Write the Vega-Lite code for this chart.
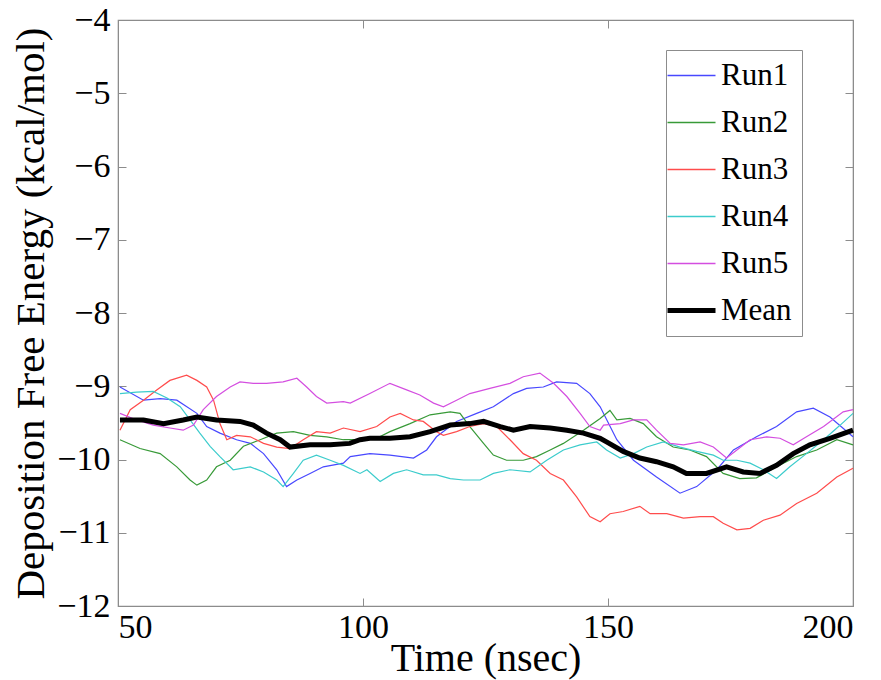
{
  "$schema": "https://vega.github.io/schema/vega-lite/v6.json",
  "width": 735,
  "height": 586,
  "autosize": "none",
  "padding": {"left": 118, "top": 20, "right": 28, "bottom": 74},
  "background": "white",
  "config": {
    "view": {"stroke": "#8c8c8c", "strokeWidth": 1.2},
    "axis": {"domainColor": "#8c8c8c", "tickColor": "#8c8c8c", "grid": false, "labelColor": "black", "titleColor": "black"}
  },
  "data": {"values": [
    {"s":"Run1","t":50.4,"v":-9.01},{"s":"Run1","t":55.2,"v":-9.19},{"s":"Run1","t":58.6,"v":-9.17},{"s":"Run1","t":62,"v":-9.19},{"s":"Run1","t":66.1,"v":-9.37},{"s":"Run1","t":68.1,"v":-9.55},{"s":"Run1","t":70.8,"v":-9.64},{"s":"Run1","t":74.2,"v":-9.73},{"s":"Run1","t":77,"v":-9.78},{"s":"Run1","t":79.7,"v":-9.92},{"s":"Run1","t":82.4,"v":-10.14},{"s":"Run1","t":84.4,"v":-10.37},{"s":"Run1","t":86.5,"v":-10.28},{"s":"Run1","t":89.2,"v":-10.19},{"s":"Run1","t":91.9,"v":-10.1},{"s":"Run1","t":96,"v":-10.05},{"s":"Run1","t":97.4,"v":-9.96},{"s":"Run1","t":101.4,"v":-9.92},{"s":"Run1","t":105.5,"v":-9.94},{"s":"Run1","t":110.3,"v":-9.98},{"s":"Run1","t":113,"v":-9.87},{"s":"Run1","t":115,"v":-9.69},{"s":"Run1","t":119.1,"v":-9.48},{"s":"Run1","t":123.2,"v":-9.37},{"s":"Run1","t":126.6,"v":-9.28},{"s":"Run1","t":130.7,"v":-9.1},{"s":"Run1","t":133.4,"v":-9.03},{"s":"Run1","t":136.8,"v":-9.01},{"s":"Run1","t":139.5,"v":-8.94},{"s":"Run1","t":143.6,"v":-8.96},{"s":"Run1","t":146.3,"v":-9.1},{"s":"Run1","t":148.4,"v":-9.28},{"s":"Run1","t":151.8,"v":-9.73},{"s":"Run1","t":155.2,"v":-10.01},{"s":"Run1","t":159.9,"v":-10.24},{"s":"Run1","t":164.7,"v":-10.46},{"s":"Run1","t":168.1,"v":-10.37},{"s":"Run1","t":172.2,"v":-10.14},{"s":"Run1","t":175.6,"v":-9.87},{"s":"Run1","t":180.3,"v":-9.69},{"s":"Run1","t":184.4,"v":-9.55},{"s":"Run1","t":188.5,"v":-9.35},{"s":"Run1","t":191.9,"v":-9.3},{"s":"Run1","t":195.3,"v":-9.42},{"s":"Run1","t":200,"v":-9.69},
    {"s":"Run2","t":50.4,"v":-9.73},{"s":"Run2","t":54.5,"v":-9.85},{"s":"Run2","t":58.6,"v":-9.92},{"s":"Run2","t":62,"v":-10.1},{"s":"Run2","t":64.7,"v":-10.28},{"s":"Run2","t":66.1,"v":-10.35},{"s":"Run2","t":68.1,"v":-10.28},{"s":"Run2","t":70.1,"v":-10.1},{"s":"Run2","t":72.9,"v":-10.01},{"s":"Run2","t":75.6,"v":-9.82},{"s":"Run2","t":79,"v":-9.73},{"s":"Run2","t":82.4,"v":-9.64},{"s":"Run2","t":85.8,"v":-9.62},{"s":"Run2","t":89.2,"v":-9.67},{"s":"Run2","t":92.6,"v":-9.69},{"s":"Run2","t":96,"v":-9.73},{"s":"Run2","t":99.4,"v":-9.73},{"s":"Run2","t":102.8,"v":-9.71},{"s":"Run2","t":105.5,"v":-9.62},{"s":"Run2","t":109.6,"v":-9.51},{"s":"Run2","t":113.7,"v":-9.39},{"s":"Run2","t":117.8,"v":-9.35},{"s":"Run2","t":119.8,"v":-9.37},{"s":"Run2","t":121.8,"v":-9.55},{"s":"Run2","t":124.6,"v":-9.78},{"s":"Run2","t":126.6,"v":-9.94},{"s":"Run2","t":129.3,"v":-10.01},{"s":"Run2","t":132.7,"v":-10.01},{"s":"Run2","t":135.4,"v":-9.96},{"s":"Run2","t":138.2,"v":-9.87},{"s":"Run2","t":140.9,"v":-9.78},{"s":"Run2","t":145,"v":-9.6},{"s":"Run2","t":148.4,"v":-9.44},{"s":"Run2","t":150.4,"v":-9.33},{"s":"Run2","t":151.8,"v":-9.46},{"s":"Run2","t":154.5,"v":-9.44},{"s":"Run2","t":157.2,"v":-9.51},{"s":"Run2","t":159.9,"v":-9.69},{"s":"Run2","t":163.3,"v":-9.83},{"s":"Run2","t":166.7,"v":-9.87},{"s":"Run2","t":170.1,"v":-9.96},{"s":"Run2","t":173.5,"v":-10.19},{"s":"Run2","t":176.9,"v":-10.26},{"s":"Run2","t":180.3,"v":-10.25},{"s":"Run2","t":184.4,"v":-10.1},{"s":"Run2","t":188.5,"v":-9.96},{"s":"Run2","t":192.6,"v":-9.87},{"s":"Run2","t":196.7,"v":-9.73},{"s":"Run2","t":200,"v":-9.8},
    {"s":"Run3","t":50.4,"v":-9.6},{"s":"Run3","t":52.5,"v":-9.32},{"s":"Run3","t":55.2,"v":-9.19},{"s":"Run3","t":57.9,"v":-9.05},{"s":"Run3","t":60.6,"v":-8.92},{"s":"Run3","t":64,"v":-8.85},{"s":"Run3","t":66.1,"v":-8.92},{"s":"Run3","t":68.1,"v":-9.01},{"s":"Run3","t":69.5,"v":-9.19},{"s":"Run3","t":70.8,"v":-9.51},{"s":"Run3","t":72.2,"v":-9.73},{"s":"Run3","t":74.2,"v":-9.67},{"s":"Run3","t":77,"v":-9.69},{"s":"Run3","t":79.7,"v":-9.78},{"s":"Run3","t":82.4,"v":-9.83},{"s":"Run3","t":85.1,"v":-9.85},{"s":"Run3","t":87.8,"v":-9.73},{"s":"Run3","t":90.5,"v":-9.62},{"s":"Run3","t":93.3,"v":-9.64},{"s":"Run3","t":96,"v":-9.57},{"s":"Run3","t":99.4,"v":-9.62},{"s":"Run3","t":102.8,"v":-9.55},{"s":"Run3","t":105.5,"v":-9.42},{"s":"Run3","t":107.6,"v":-9.37},{"s":"Run3","t":110.3,"v":-9.46},{"s":"Run3","t":112.3,"v":-9.48},{"s":"Run3","t":115,"v":-9.62},{"s":"Run3","t":116.4,"v":-9.67},{"s":"Run3","t":119.1,"v":-9.62},{"s":"Run3","t":121.8,"v":-9.55},{"s":"Run3","t":124.6,"v":-9.51},{"s":"Run3","t":127.3,"v":-9.55},{"s":"Run3","t":130,"v":-9.73},{"s":"Run3","t":132.7,"v":-9.92},{"s":"Run3","t":135.4,"v":-10.01},{"s":"Run3","t":138.2,"v":-10.19},{"s":"Run3","t":140.9,"v":-10.28},{"s":"Run3","t":143.6,"v":-10.51},{"s":"Run3","t":146.3,"v":-10.78},{"s":"Run3","t":148.4,"v":-10.85},{"s":"Run3","t":150.4,"v":-10.74},{"s":"Run3","t":153.1,"v":-10.71},{"s":"Run3","t":156.5,"v":-10.64},{"s":"Run3","t":158.6,"v":-10.74},{"s":"Run3","t":162,"v":-10.74},{"s":"Run3","t":165.4,"v":-10.8},{"s":"Run3","t":168.8,"v":-10.78},{"s":"Run3","t":171.5,"v":-10.78},{"s":"Run3","t":173.5,"v":-10.87},{"s":"Run3","t":176.3,"v":-10.96},{"s":"Run3","t":179,"v":-10.94},{"s":"Run3","t":181.7,"v":-10.83},{"s":"Run3","t":185.1,"v":-10.76},{"s":"Run3","t":188.5,"v":-10.6},{"s":"Run3","t":192.6,"v":-10.46},{"s":"Run3","t":196.7,"v":-10.24},{"s":"Run3","t":200,"v":-10.12},
    {"s":"Run4","t":50.4,"v":-9.1},{"s":"Run4","t":53.8,"v":-9.08},{"s":"Run4","t":57.2,"v":-9.07},{"s":"Run4","t":60,"v":-9.16},{"s":"Run4","t":62.7,"v":-9.28},{"s":"Run4","t":64.7,"v":-9.46},{"s":"Run4","t":66.7,"v":-9.64},{"s":"Run4","t":68.8,"v":-9.82},{"s":"Run4","t":70.8,"v":-9.96},{"s":"Run4","t":73.5,"v":-10.14},{"s":"Run4","t":77,"v":-10.1},{"s":"Run4","t":79.7,"v":-10.17},{"s":"Run4","t":82.4,"v":-10.28},{"s":"Run4","t":83.7,"v":-10.37},{"s":"Run4","t":85.8,"v":-10.19},{"s":"Run4","t":87.8,"v":-10.01},{"s":"Run4","t":90.5,"v":-9.94},{"s":"Run4","t":93.3,"v":-10.01},{"s":"Run4","t":96,"v":-10.08},{"s":"Run4","t":99.4,"v":-10.19},{"s":"Run4","t":100.8,"v":-10.14},{"s":"Run4","t":103.5,"v":-10.3},{"s":"Run4","t":106.2,"v":-10.19},{"s":"Run4","t":108.9,"v":-10.14},{"s":"Run4","t":112.3,"v":-10.21},{"s":"Run4","t":115,"v":-10.21},{"s":"Run4","t":117.8,"v":-10.26},{"s":"Run4","t":120.5,"v":-10.28},{"s":"Run4","t":123.9,"v":-10.28},{"s":"Run4","t":126.6,"v":-10.19},{"s":"Run4","t":130,"v":-10.14},{"s":"Run4","t":134.1,"v":-10.17},{"s":"Run4","t":137.5,"v":-10.01},{"s":"Run4","t":140.9,"v":-9.87},{"s":"Run4","t":144.3,"v":-9.8},{"s":"Run4","t":147.7,"v":-9.76},{"s":"Run4","t":149.7,"v":-9.87},{"s":"Run4","t":152.5,"v":-9.98},{"s":"Run4","t":155.2,"v":-9.92},{"s":"Run4","t":157.9,"v":-9.83},{"s":"Run4","t":161.3,"v":-9.76},{"s":"Run4","t":164.7,"v":-9.83},{"s":"Run4","t":168.1,"v":-9.89},{"s":"Run4","t":171.5,"v":-9.94},{"s":"Run4","t":173.5,"v":-10.01},{"s":"Run4","t":176.3,"v":-10.01},{"s":"Run4","t":179,"v":-10.05},{"s":"Run4","t":181.7,"v":-10.14},{"s":"Run4","t":184.4,"v":-10.26},{"s":"Run4","t":187.1,"v":-10.1},{"s":"Run4","t":190.5,"v":-9.92},{"s":"Run4","t":194,"v":-9.73},{"s":"Run4","t":197.4,"v":-9.53},{"s":"Run4","t":200,"v":-9.37},
    {"s":"Run5","t":50.4,"v":-9.37},{"s":"Run5","t":53.8,"v":-9.46},{"s":"Run5","t":57.2,"v":-9.53},{"s":"Run5","t":60.6,"v":-9.57},{"s":"Run5","t":63.3,"v":-9.6},{"s":"Run5","t":65.4,"v":-9.53},{"s":"Run5","t":67.4,"v":-9.32},{"s":"Run5","t":70.1,"v":-9.14},{"s":"Run5","t":72.9,"v":-9.01},{"s":"Run5","t":74.9,"v":-8.94},{"s":"Run5","t":77.6,"v":-8.96},{"s":"Run5","t":80.3,"v":-8.96},{"s":"Run5","t":83.7,"v":-8.94},{"s":"Run5","t":86.5,"v":-8.89},{"s":"Run5","t":88.5,"v":-9.01},{"s":"Run5","t":90.5,"v":-9.14},{"s":"Run5","t":92.6,"v":-9.23},{"s":"Run5","t":96,"v":-9.21},{"s":"Run5","t":97.4,"v":-9.23},{"s":"Run5","t":101.4,"v":-9.1},{"s":"Run5","t":105.5,"v":-8.96},{"s":"Run5","t":108.9,"v":-9.05},{"s":"Run5","t":111.6,"v":-9.12},{"s":"Run5","t":114.4,"v":-9.23},{"s":"Run5","t":116.4,"v":-9.28},{"s":"Run5","t":119.1,"v":-9.19},{"s":"Run5","t":121.8,"v":-9.1},{"s":"Run5","t":125.9,"v":-9.03},{"s":"Run5","t":130,"v":-8.96},{"s":"Run5","t":132.7,"v":-8.87},{"s":"Run5","t":136.1,"v":-8.82},{"s":"Run5","t":138.9,"v":-8.96},{"s":"Run5","t":141.6,"v":-9.14},{"s":"Run5","t":144.3,"v":-9.37},{"s":"Run5","t":146.3,"v":-9.55},{"s":"Run5","t":148.4,"v":-9.6},{"s":"Run5","t":149.1,"v":-9.53},{"s":"Run5","t":152.5,"v":-9.51},{"s":"Run5","t":155.2,"v":-9.46},{"s":"Run5","t":157.9,"v":-9.46},{"s":"Run5","t":159.9,"v":-9.6},{"s":"Run5","t":162.7,"v":-9.78},{"s":"Run5","t":165.4,"v":-9.8},{"s":"Run5","t":168.8,"v":-9.76},{"s":"Run5","t":171.5,"v":-9.83},{"s":"Run5","t":174.2,"v":-9.98},{"s":"Run5","t":176.3,"v":-9.87},{"s":"Run5","t":179,"v":-9.73},{"s":"Run5","t":182.4,"v":-9.69},{"s":"Run5","t":185.1,"v":-9.71},{"s":"Run5","t":187.8,"v":-9.8},{"s":"Run5","t":190.5,"v":-9.69},{"s":"Run5","t":194,"v":-9.55},{"s":"Run5","t":198,"v":-9.35},{"s":"Run5","t":200,"v":-9.32},
    {"s":"Mean","t":50.4,"v":-9.46},{"s":"Mean","t":55.2,"v":-9.46},{"s":"Mean","t":59.3,"v":-9.51},{"s":"Mean","t":63.3,"v":-9.46},{"s":"Mean","t":66.1,"v":-9.42},{"s":"Mean","t":70.1,"v":-9.46},{"s":"Mean","t":74.9,"v":-9.48},{"s":"Mean","t":77.6,"v":-9.53},{"s":"Mean","t":80.3,"v":-9.64},{"s":"Mean","t":83.1,"v":-9.73},{"s":"Mean","t":85.1,"v":-9.83},{"s":"Mean","t":89.2,"v":-9.8},{"s":"Mean","t":93.3,"v":-9.8},{"s":"Mean","t":97.3,"v":-9.78},{"s":"Mean","t":99.4,"v":-9.73},{"s":"Mean","t":101.4,"v":-9.71},{"s":"Mean","t":105.5,"v":-9.71},{"s":"Mean","t":109.6,"v":-9.69},{"s":"Mean","t":113.7,"v":-9.62},{"s":"Mean","t":117.8,"v":-9.53},{"s":"Mean","t":121.8,"v":-9.51},{"s":"Mean","t":124.6,"v":-9.48},{"s":"Mean","t":128,"v":-9.55},{"s":"Mean","t":130.7,"v":-9.6},{"s":"Mean","t":134.1,"v":-9.55},{"s":"Mean","t":138.2,"v":-9.57},{"s":"Mean","t":141.6,"v":-9.6},{"s":"Mean","t":145,"v":-9.64},{"s":"Mean","t":148.4,"v":-9.71},{"s":"Mean","t":149.7,"v":-9.76},{"s":"Mean","t":153.1,"v":-9.89},{"s":"Mean","t":156.5,"v":-9.98},{"s":"Mean","t":159.9,"v":-10.03},{"s":"Mean","t":163.3,"v":-10.1},{"s":"Mean","t":166,"v":-10.19},{"s":"Mean","t":170.1,"v":-10.19},{"s":"Mean","t":174.2,"v":-10.1},{"s":"Mean","t":177.6,"v":-10.17},{"s":"Mean","t":181,"v":-10.19},{"s":"Mean","t":184.4,"v":-10.08},{"s":"Mean","t":187.8,"v":-9.92},{"s":"Mean","t":191.2,"v":-9.8},{"s":"Mean","t":195.3,"v":-9.71},{"s":"Mean","t":200,"v":-9.6}
  ]},
  "layer": [
    {
      "mark": {"type": "line", "interpolate": "linear"},
      "encoding": {
        "x": {"field": "t", "type": "quantitative", "scale": {"domain": [50, 200], "nice": false, "zero": false},
              "axis": {"title": "Time (nsec)", "titleFont": "Liberation Serif", "titleFontWeight": "normal", "titleFontSize": 40, "labelFont": "Liberation Serif", "labelFontWeight": "normal", "labelFontSize": 34, "values": [50, 100, 150, 200], "tickSize": -8, "labelPadding": 12, "titlePadding": -6}},
        "y": {"field": "v", "type": "quantitative", "scale": {"domain": [-12, -4], "nice": false, "zero": false},
              "axis": {"title": "Deposition Free Energy (kcal/mol)", "titleFont": "Liberation Serif", "titleFontWeight": "normal", "titleFontSize": 41, "labelFont": "Liberation Serif", "labelFontWeight": "normal", "labelFontSize": 34, "values": [-12, -11, -10, -9, -8, -7, -6, -5, -4], "tickSize": -8, "labelPadding": 16, "titlePadding": 4}},
        "color": {"field": "s", "type": "nominal",
                  "scale": {"domain": ["Run1", "Run2", "Run3", "Run4", "Run5", "Mean"], "range": ["#4848ff", "#389a38", "#ff4c4c", "#3ccccc", "#d44ee0", "#000000"]},
                  "legend": {"title": null, "orient": "none", "legendX": 548, "legendY": 30, "labelFont": "Liberation Serif", "labelFontWeight": "normal", "labelFontSize": 31, "labelColor": "black", "symbolType": "stroke", "symbolSize": 2304, "symbolStrokeWidth": 1.5, "labelOffset": 14, "rowPadding": 15, "padding": 10, "strokeColor": "#8c8c8c", "fillColor": "white",
                             "encode": {"symbols": {"update": {"stroke": {"signal": "scale('color', datum.value)"}, "strokeOpacity": {"value": 1}, "opacity": {"value": 1}, "strokeWidth": {"signal": "datum.value === 'Mean' ? 5 : 1.5"}}}}}},
        "strokeWidth": {"condition": {"test": "datum.s === 'Mean'", "value": 5}, "value": 1.2},
        "order": {"field": "t", "type": "quantitative"}
      }
    },
    {
      "mark": {"type": "rule", "opacity": 0},
      "encoding": {
        "x": {"field": "t", "type": "quantitative", "aggregate": "min", "axis": {"orient": "top", "values": [50, 100, 150, 200], "labels": false, "title": null, "tickSize": -8}},
        "y": {"field": "v", "type": "quantitative", "aggregate": "min", "axis": {"orient": "right", "values": [-12, -11, -10, -9, -8, -7, -6, -5, -4], "labels": false, "title": null, "tickSize": -8}}
      }
    }
  ],
  "resolve": {"axis": {"x": "independent", "y": "independent"}}
}
